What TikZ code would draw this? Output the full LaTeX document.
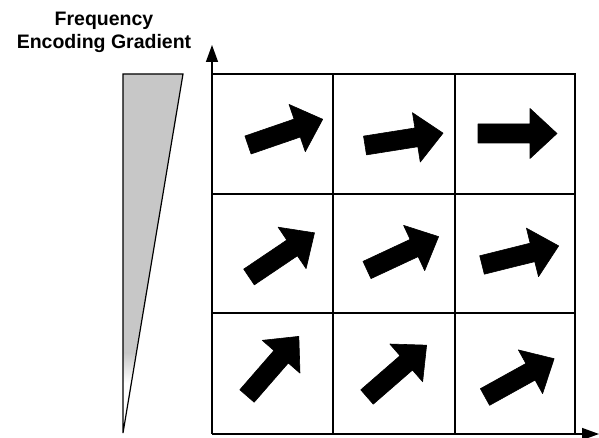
\documentclass[tikz,border=0pt]{standalone}
\usepackage{fontspec}
\setmainfont{Liberation Sans}
\usetikzlibrary{arrows.meta}
\tikzset{
  gridline/.style={line width=1.4pt, black},
  axisline/.style={line width=1.4pt, black, -{Triangle[length=17pt,width=12pt]}},
  blockarrow/.style={fill=black, draw=black, line width=0.6pt, line join=round},
  wedge/.style={draw=black, line width=1.2pt, line join=miter},
  stipple/.style={fill=black!22},
  title/.style={font=\bfseries\fontsize{19.5}{23}\selectfont, align=center, inner sep=0pt},
  pics/blockarr/.style={code={
    \path[blockarrow] (0,-9.5) -- (52,-9.5) -- (52,-25) -- (79,0) -- (52,25) -- (52,9.5) -- (0,9.5) -- cycle;
  }}
}
\begin{document}
\begin{tikzpicture}[x=1pt, y=1pt]
\useasboundingbox (0,0) rectangle (599,438);

% gradient wedge: stippled fill fading out towards the point
\fill[stipple] (123,364) -- (183,364) -- (136,85) -- (123,85) -- cycle;
\shade[top color=black!22, bottom color=white] (123,85) -- (136,85) -- (131.5,55) -- (123,55) -- cycle;
\draw[wedge] (123,364) -- (183,364) -- (123,5) -- cycle;

\node[title] (label) at (104,406) {Frequency\\Encoding Gradient};

% axes
\coordinate (origin) at (212,4);
\coordinate (ytip) at (212,393);
\coordinate (xtip) at (599,4);
\draw[axisline] (origin) -- (ytip);
\draw[axisline] (origin) -- (xtip);

% 3x3 grid
\draw[gridline] (212,364) -- (575,364) -- (575,4);
\draw[gridline] (212,244) -- (575,244);
\draw[gridline] (212,125) -- (575,125);
\draw[gridline] (333,4) -- (333,364);
\draw[gridline] (455,4) -- (455,364);

% direction arrows, one per cell
\pic[rotate=19] at (248,293) {blockarr};
\pic[rotate=9]  at (365,292.5) {blockarr};
\pic[rotate=0]  at (478,304.5) {blockarr};

\pic[rotate=34] at (249,161) {blockarr};
\pic[rotate=25] at (367,168) {blockarr};
\pic[rotate=14] at (482,173) {blockarr};

\pic[rotate=49] at (247,42) {blockarr};
\pic[rotate=41] at (367,41) {blockarr};
\pic[rotate=29] at (485,41) {blockarr};
\end{tikzpicture}
\end{document}
